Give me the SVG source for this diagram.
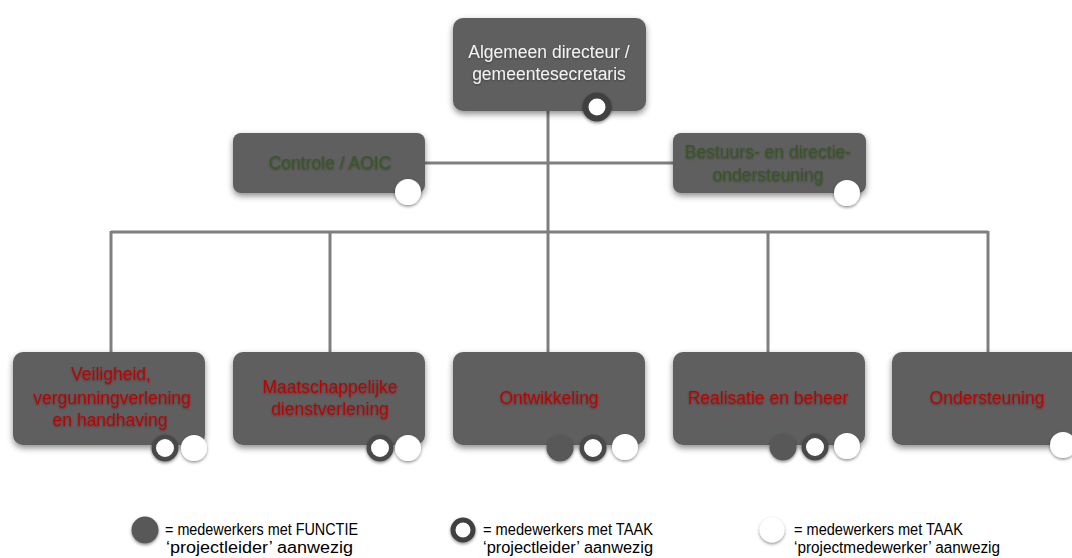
<svg xmlns="http://www.w3.org/2000/svg" width="1072" height="558" viewBox="0 0 1072 558">
<defs>
  <filter id="boxShadow" x="-20%" y="-20%" width="140%" height="150%">
    <feDropShadow dx="0" dy="3" stdDeviation="3" flood-color="#000" flood-opacity="0.45"/>
  </filter>
  <filter id="dotShadow" x="-50%" y="-50%" width="200%" height="200%">
    <feDropShadow dx="0" dy="1.5" stdDeviation="1.5" flood-color="#000" flood-opacity="0.45"/>
  </filter>
  <filter id="txtShadow" x="-10%" y="-30%" width="120%" height="160%">
    <feDropShadow dx="0" dy="1" stdDeviation="1" flood-color="#000" flood-opacity="0.35"/>
  </filter>
</defs>
<style>
  .box { fill: #5f5f5f; filter: url(#boxShadow); }
  .lbl { font-family: "Liberation Sans", Arial, sans-serif; font-size: 17.5px; text-anchor: middle; filter: url(#txtShadow); }
  .top { fill: #f2f2f2; }
  .grn { fill: #375623; }
  .red { fill: #c00000; }
  .conn { stroke: #7f7f7f; stroke-width: 3; fill: none; }
  .dotF { fill: #595959; filter: url(#dotShadow); }
  .dotR { fill: #ffffff; stroke: #4a4a4a; stroke-width: 4.5; filter: url(#dotShadow); }
  .dotW { fill: #ffffff; filter: url(#dotShadow); }
  .leg { font-family: "Liberation Sans", Arial, sans-serif; font-size: 16px; fill: #000; }
</style>
<rect width="1072" height="558" fill="#ffffff"/>

<g id="connectors">
  <line class="conn" x1="548" y1="111" x2="548" y2="232"/>
  <line class="conn" x1="425" y1="163" x2="673" y2="163"/>
  <line class="conn" x1="111" y1="232" x2="988" y2="232"/>
  <line class="conn" x1="111" y1="231" x2="111" y2="352"/>
  <line class="conn" x1="330" y1="231" x2="330" y2="352"/>
  <line class="conn" x1="548" y1="231" x2="548" y2="352"/>
  <line class="conn" x1="768" y1="231" x2="768" y2="352"/>
  <line class="conn" x1="988" y1="231" x2="988" y2="352"/>
</g>

<g id="node-directeur">
  <rect class="box" x="453" y="18" width="193" height="93" rx="10"/>
  <text class="lbl top" x="549" y="58">Algemeen directeur /</text>
  <text class="lbl top" x="549" y="80">gemeentesecretaris</text>
  <circle cx="597" cy="107" r="11.5" fill="#ffffff" stroke="#3f3f3f" stroke-width="6" filter="url(#dotShadow)"/>
</g>

<g id="node-controle">
  <rect class="box" x="233" y="133" width="192" height="60" rx="8"/>
  <text class="lbl grn" x="330" y="169">Controle / AOIC</text>
  <circle class="dotW" cx="408" cy="192" r="13"/>
</g>

<g id="node-bestuurs">
  <rect class="box" x="673" y="133" width="193" height="60" rx="8"/>
  <text class="lbl grn" x="768" y="158">Bestuurs- en directie-</text>
  <text class="lbl grn" x="768" y="181">ondersteuning</text>
  <circle class="dotW" cx="847" cy="193" r="13"/>
</g>

<g id="node-veiligheid">
  <rect class="box" x="13" y="352" width="192" height="93" rx="10"/>
  <text class="lbl red" x="111" y="380">Veiligheid,</text>
  <text class="lbl red" x="112" y="404">vergunningverlening</text>
  <text class="lbl red" x="110" y="426">en handhaving</text>
  <circle class="dotR" cx="165" cy="448" r="11.25"/>
  <circle class="dotW" cx="194" cy="448" r="13"/>
</g>

<g id="node-maatschappelijke">
  <rect class="box" x="233" y="352" width="192" height="93" rx="10"/>
  <text class="lbl red" x="330" y="393">Maatschappelijke</text>
  <text class="lbl red" x="330" y="415">dienstverlening</text>
  <circle class="dotR" cx="380" cy="448" r="11.25"/>
  <circle class="dotW" cx="408" cy="448" r="13"/>
</g>

<g id="node-ontwikkeling">
  <rect class="box" x="453" y="352" width="192" height="93" rx="10"/>
  <text class="lbl red" x="549" y="404">Ontwikkeling</text>
  <circle class="dotF" cx="560" cy="448" r="13.5"/>
  <circle class="dotR" cx="593" cy="448" r="11.25"/>
  <circle class="dotW" cx="625" cy="447" r="13"/>
</g>

<g id="node-realisatie">
  <rect class="box" x="673" y="352" width="192" height="93" rx="10"/>
  <text class="lbl red" x="768" y="404">Realisatie en beheer</text>
  <circle class="dotF" cx="783" cy="447" r="13.5"/>
  <circle class="dotR" cx="815" cy="447" r="11.25"/>
  <circle class="dotW" cx="847" cy="446" r="13"/>
</g>

<g id="node-ondersteuning">
  <rect class="box" x="892" y="352" width="192" height="93" rx="10"/>
  <text class="lbl red" x="987" y="404">Ondersteuning</text>
  <circle class="dotW" cx="1063" cy="445" r="13"/>
</g>

<g id="legend">
  <circle class="dotF" cx="145" cy="530" r="13.5"/>
  <text class="leg" x="165" y="535" textLength="193" lengthAdjust="spacingAndGlyphs">= medewerkers met FUNCTIE</text>
  <text class="leg" x="166" y="553" textLength="187" lengthAdjust="spacingAndGlyphs">‘projectleider’ aanwezig</text>

  <circle cx="463" cy="530" r="10" fill="#ffffff" stroke="#404040" stroke-width="5" filter="url(#dotShadow)"/>
  <text class="leg" x="483" y="535" textLength="170" lengthAdjust="spacingAndGlyphs">= medewerkers met TAAK</text>
  <text class="leg" x="483" y="553" textLength="170" lengthAdjust="spacingAndGlyphs">‘projectleider’ aanwezig</text>

  <circle class="dotW" cx="772" cy="530" r="12.5"/>
  <text class="leg" x="794" y="535" textLength="169" lengthAdjust="spacingAndGlyphs">= medewerkers met TAAK</text>
  <text class="leg" x="794" y="553" textLength="206" lengthAdjust="spacingAndGlyphs">‘projectmedewerker’ aanwezig</text>
</g>
</svg>
